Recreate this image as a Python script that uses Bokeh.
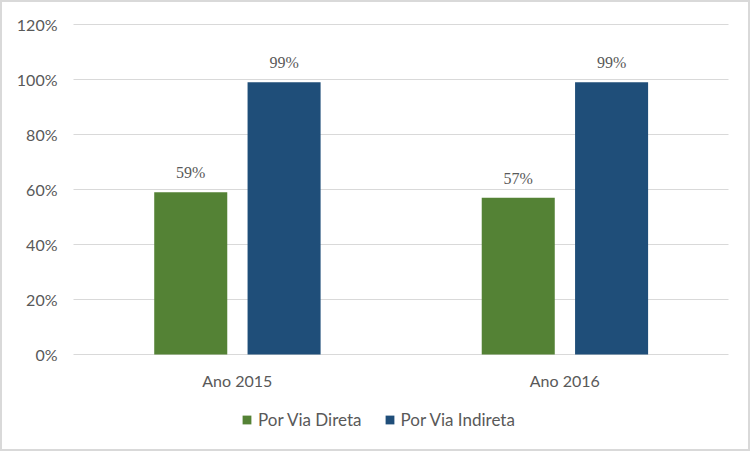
from bokeh.plotting import figure
from bokeh.models import ColumnDataSource, Range1d, LabelSet, Legend, LegendItem
from bokeh.core.properties import value
from bokeh.embed import file_html
from bokeh.resources import INLINE

years = ["Ano 2015", "Ano 2016"]
direta = [0.59, 0.57]
indireta = [0.99, 0.99]
series_names = ["Por Via Direta", "Por Via Indireta"]
colors = ["#548235", "#1F4E79"]
yticks = [0, 0.2, 0.4, 0.6, 0.8, 1.0, 1.2]
ytick_labels = ["0%", "20%", "40%", "60%", "80%", "100%", "120%"]

FONT = "Lato"
GREY = "#595959"
W, H = 750, 451
# layout (pixels)
PLOT_L, PLOT_R, ZERO_Y, PX_PER_UNIT_Y = 73, 728, 354, 275.0
CAT_W = (PLOT_R - PLOT_L) / len(years)

xs = [i + 0.5 for i in range(len(years))]
src = ColumnDataSource(dict(
    x=xs, direta=direta, indireta=indireta,
    dlab=[f"{round(v*100)}%" for v in direta],
    ilab=[f"{round(v*100)}%" for v in indireta],
    xd=[x - 0.142 for x in xs], xi=[x + 0.143 for x in xs],
    year=years,
))

p = figure(x_range=Range1d(-PLOT_L / CAT_W, (W - PLOT_L) / CAT_W),
           y_range=Range1d(-(H - ZERO_Y) / PX_PER_UNIT_Y, ZERO_Y / PX_PER_UNIT_Y),
           width=W, height=H, output_backend="svg", toolbar_location=None,
           min_border=0, x_axis_type=None, y_axis_type=None)
p.xgrid.grid_line_color = None
p.ygrid.grid_line_color = None
p.outline_line_color = "#D9D9D9"
p.outline_line_width = 3

# gridlines over the plot area
p.segment(x0=0, x1=len(years), y0=yticks, y1=yticks, line_color="#D9D9D9", line_width=1)

r1 = p.vbar(x="xd", top="direta", width=0.223, source=src, color=colors[0], line_color=None)
r2 = p.vbar(x="xi", top="indireta", width=0.223, source=src, color=colors[1], line_color=None)

for xcol, col, lab in [("xd", "direta", "dlab"), ("xi", "indireta", "ilab")]:
    p.add_layout(LabelSet(x=xcol, y=col, text=lab, source=src,
                          y_offset=11, text_align="center", text_baseline="bottom",
                          text_font=FONT, text_font_size="16px", text_color=GREY))

# y tick labels
p.text(x=-16 / CAT_W, y=yticks, text=ytick_labels, text_align="right", text_baseline="middle",
       text_font=value(FONT), text_font_size="16px", text_color=GREY)
# category labels
p.text(x="x", y=-26 / PX_PER_UNIT_Y, text="year", source=src, text_align="center",
       text_baseline="middle", text_font=value(FONT), text_font_size="16px", text_color=GREY)

legend = Legend(items=[LegendItem(label=series_names[0], renderers=[r1]),
                       LegendItem(label=series_names[1], renderers=[r2])],
                orientation="horizontal", location=(241, 21),
                label_text_font=FONT, label_text_font_size="17px", label_text_color=GREY,
                glyph_width=11, glyph_height=11, spacing=22, label_standoff=6,
                label_height=20, border_line_color=None, background_fill_alpha=0,
                margin=0, padding=0)
p.add_layout(legend)

open("out.html", "w").write(file_html(p, INLINE))
